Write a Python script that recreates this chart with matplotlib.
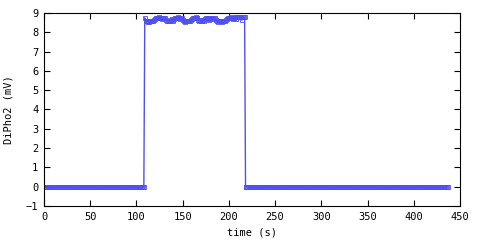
import numpy as np
import matplotlib
matplotlib.use('Agg')
import matplotlib.pyplot as plt

# readings before / after the pulse are flat zero
t_low1 = np.arange(0, 109)
v_low1 = np.zeros(len(t_low1))

# pulse plateau readings, one per second
t_high = np.arange(109, 218)
v_high = [8.75, 8.56, 8.56, 8.55, 8.56, 8.55, 8.56, 8.6, 8.56, 8.6, 8.62,
          8.7, 8.75, 8.76, 8.75, 8.77, 8.75, 8.76, 8.75, 8.7, 8.75, 8.76,
          8.75, 8.62, 8.6, 8.56, 8.56, 8.6, 8.62, 8.7, 8.62, 8.6, 8.7,
          8.75, 8.76, 8.75, 8.77, 8.75, 8.7, 8.75, 8.76, 8.62, 8.56, 8.56,
          8.55, 8.56, 8.6, 8.56, 8.6, 8.56, 8.62, 8.7, 8.75, 8.76, 8.75,
          8.77, 8.75, 8.76, 8.62, 8.6, 8.62, 8.56, 8.6, 8.62, 8.6, 8.7,
          8.75, 8.76, 8.7, 8.75, 8.62, 8.7, 8.76, 8.75, 8.7, 8.75, 8.76,
          8.62, 8.56, 8.55, 8.56, 8.56, 8.6, 8.56, 8.55, 8.56, 8.6, 8.56,
          8.62, 8.7, 8.75, 8.76, 8.75, 8.77, 8.75, 8.7, 8.76, 8.75, 8.77,
          8.7, 8.78, 8.8, 8.78, 8.8, 8.78, 8.62, 8.8, 8.78, 8.8]

t_low2 = np.arange(218, 438)
v_low2 = np.zeros(len(t_low2))

t = np.concatenate([t_low1, t_high, t_low2])
v = np.concatenate([v_low1, v_high, v_low2])

plt.rcParams['font.family'] = ['DejaVu Sans Mono']
fig = plt.figure(figsize=(4.8, 2.4), dpi=100)
ax = fig.add_axes([0.0917, 0.1417, 0.8666, 0.8043])

blue = '#5050f0'
ax.plot(t, v, color=blue, lw=1, marker='s', markersize=3.4,
        markerfacecolor='none', markeredgecolor=blue, markeredgewidth=0.6)

ax.set_xlim(0, 450)
ax.set_ylim(-1, 9)
ax.set_xticks(np.arange(0, 451, 50))
ax.set_yticks(np.arange(-1, 10, 1))
ax.tick_params(direction='in', top=True, right=True, length=4, width=0.8,
               labelsize=7.5, pad=4)
for s in ax.spines.values():
    s.set_linewidth(0.8)
ax.set_xlabel('time (s)', fontsize=7.5, labelpad=4)
ax.set_ylabel('DiPho2 (mV)', fontsize=7.5, labelpad=9)

fig.savefig('out.png', dpi=100)
